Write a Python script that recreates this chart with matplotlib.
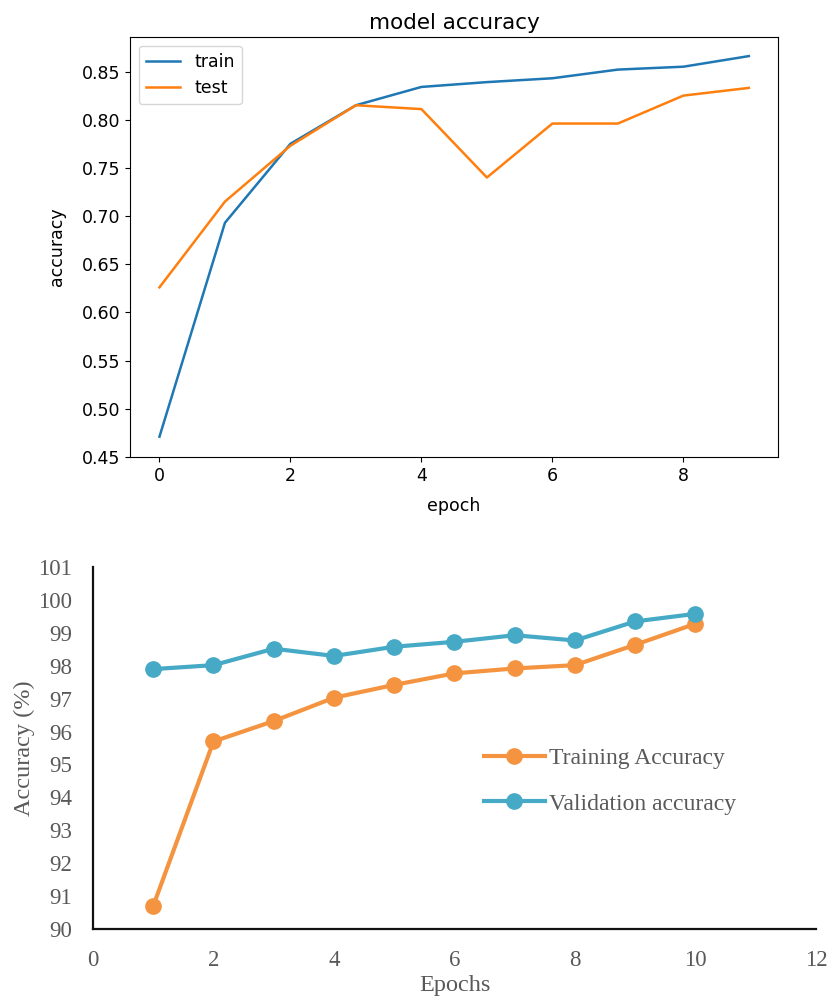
import matplotlib
matplotlib.use('Agg')
import matplotlib.pyplot as plt

# top chart: keras-style history
epochs_top = [0, 1, 2, 3, 4, 5, 6, 7, 8, 9]
train_acc = [0.471, 0.693, 0.775, 0.815, 0.834, 0.839, 0.843, 0.852, 0.855, 0.866]
test_acc = [0.626, 0.715, 0.773, 0.815, 0.811, 0.740, 0.796, 0.796, 0.825, 0.833]

# bottom chart: percent accuracy per epoch
epochs_bot = [1, 2, 3, 4, 5, 6, 7, 8, 9, 10]
training_pct = [90.70, 95.70, 96.32, 97.03, 97.42, 97.77, 97.92, 98.02, 98.64, 99.28]
validation_pct = [97.90, 98.02, 98.52, 98.30, 98.58, 98.73, 98.93, 98.77, 99.35, 99.58]

fig = plt.figure(figsize=(8.28, 10.02), dpi=100)

# ---- top panel
ax1 = fig.add_axes([0.157, 0.544, 0.783, 0.419])
ax1.plot(epochs_top, train_acc, color='#1f77b4', lw=1.8, label='train')
ax1.plot(epochs_top, test_acc, color='#ff7f0e', lw=1.8, label='test')
ax1.set_title('model accuracy', fontsize=15.5)
ax1.set_ylabel('accuracy', fontsize=12.5, labelpad=11)
ax1.set_xlabel('epoch', fontsize=12.5, labelpad=9)
ax1.set_yticks([0.45, 0.50, 0.55, 0.60, 0.65, 0.70, 0.75, 0.80, 0.85])
ax1.set_xticks([0, 2, 4, 6, 8])
ax1.tick_params(labelsize=12.5)
ax1.legend(loc='upper left', fontsize=12.5)

# ---- bottom panel
grey = '#595959'
serif = 'Liberation Serif'
ax2 = fig.add_axes([0.1123, 0.0729, 0.8732, 0.3611])
ax2.plot(epochs_bot, training_pct, color='#F59440', lw=3, marker='o',
         markersize=11, label='Training Accuracy')
ax2.plot(epochs_bot, validation_pct, color='#46AAC6', lw=3, marker='o',
         markersize=11, label='Validation accuracy')
ax2.set_xlim(0, 12)
ax2.set_ylim(90, 101)
ax2.set_xticks(range(0, 13, 2))
ax2.set_yticks(range(90, 102))
for s in ['top', 'right']:
    ax2.spines[s].set_visible(False)
for s in ['left', 'bottom']:
    ax2.spines[s].set_linewidth(1.6)
    ax2.spines[s].set_color('#111111')
ax2.tick_params(length=0, pad=15, labelsize=16.5, labelcolor=grey)
for lab in ax2.get_xticklabels() + ax2.get_yticklabels():
    lab.set_fontfamily(serif)
ax2.set_xlabel('Epochs', fontsize=17.5, color=grey, family=serif, labelpad=3)
ax2.set_ylabel('Accuracy (%)', fontsize=17.5, color=grey, family=serif, labelpad=2)
leg = ax2.legend(loc='upper left', bbox_to_anchor=(0.525, 0.533), frameon=False,
                 prop={'family': serif, 'size': 17}, handlelength=2.55,
                 handletextpad=0.2, labelspacing=1.0, borderpad=0)
for t in leg.get_texts():
    t.set_color(grey)

fig.savefig('out.png', dpi=100)
